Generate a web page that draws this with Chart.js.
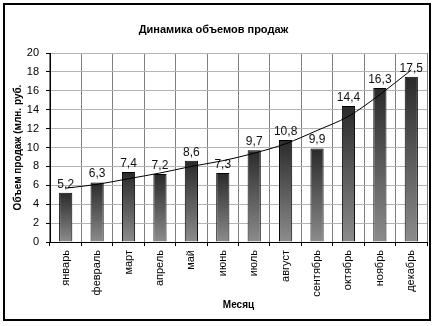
<!DOCTYPE html>
<html lang="ru">
<head>
<meta charset="utf-8">
<title>Динамика объемов продаж</title>
<script src="https://cdn.jsdelivr.net/npm/chart.js@4/dist/chart.umd.min.js"></script>
<style>
  html, body { margin: 0; padding: 0; background: #fff; }
  canvas { display: block; }
</style>
</head>
<body>
<canvas id="salesChart" width="438" height="326"></canvas>
<script>
// месяцы и объемы продаж, млн. руб.
const months = ["январь", "февраль", "март", "апрель", "май", "июнь",
  "июль", "август", "сентябрь", "октябрь", "ноябрь", "декабрь"];
const sales = [5.2, 6.3, 7.4, 7.2, 8.6, 7.3, 9.7, 10.8, 9.9, 14.4, 16.3, 17.5];
// линия тренда
const trend = [5.7, 6.1, 6.7, 7.3, 8.0, 8.6, 9.4, 10.4, 11.8, 13.3, 15.6, 18.2];
const yTicks = [0, 2, 4, 6, 8, 10, 12, 14, 16, 18, 20];

const FONT = 'Arial, "Liberation Sans", sans-serif';

// градиент для каждого столбца: темный сверху, серый снизу
const barFill = (c) => {
  const chart = c.chart;
  const y = chart.scales.y;
  if (!chart.chartArea || !y || c.dataIndex === undefined) return "#555";
  const top = y.getPixelForValue(sales[c.dataIndex]);
  const bottom = y.getPixelForValue(0);
  const g = chart.ctx.createLinearGradient(0, top, 0, bottom);
  g.addColorStop(0, "#2a2a2a");
  g.addColorStop(1, "#8c8c8c");
  return g;
};

// подписи значений над столбцами
const valueLabels = {
  id: "valueLabels",
  afterDatasetDraw(chart, args) {
    if (args.index !== 0) return;
    const ctx = chart.ctx;
    ctx.save();
    ctx.font = "12px " + FONT;
    ctx.fillStyle = "#111";
    ctx.textAlign = "center";
    ctx.textBaseline = "alphabetic";
    args.meta.data.forEach((bar, i) => {
      ctx.fillText(String(sales[i]).replace(".", ","), bar.x, bar.y - 5);
    });
    ctx.restore();
  }
};

// рамка вокруг всей диаграммы
const frame = {
  id: "frame",
  afterDraw(chart) {
    const ctx = chart.ctx;
    ctx.save();
    ctx.strokeStyle = "#000";
    ctx.lineWidth = 2;
    ctx.strokeRect(4, 4, 426, 316);
    ctx.restore();
  }
};

new Chart(document.getElementById("salesChart"), {
  data: {
    labels: months,
    datasets: [
      {
        type: "bar",
        data: sales,
        order: 1,
        backgroundColor: barFill,
        borderColor: "#000",
        borderWidth: 1,
        categoryPercentage: 1,
        barPercentage: 0.42
      },
      {
        type: "line",
        data: trend,
        order: 0,
        borderColor: "#000",
        borderWidth: 1,
        pointRadius: 0,
        cubicInterpolationMode: "monotone",
        fill: false
      }
    ]
  },
  options: {
    responsive: false,
    animation: false,
    layout: { padding: { left: 0, right: 11, top: 0, bottom: 0 } },
    plugins: {
      legend: { display: false },
      tooltip: { enabled: false },
      title: {
        display: true,
        text: "Динамика объемов продаж",
        color: "#000",
        font: { family: FONT, size: 11, weight: "bold", lineHeight: 1.2 },
        padding: { top: 23, bottom: 16.8 }
      }
    },
    scales: {
      x: {
        offset: true,
        grid: {
          offset: true,
          color: "#808080",
          tickColor: "#000",
          tickLength: 4
        },
        border: { color: "#000" },
        ticks: {
          color: "#000",
          font: { family: FONT, size: 11 },
          minRotation: 90,
          maxRotation: 90,
          autoSkip: false,
          padding: 4
        },
        title: {
          display: true,
          text: "Месяц",
          color: "#000",
          font: { family: FONT, size: 10, weight: "bold" },
          padding: { top: 0, bottom: 15 }
        },
        afterFit(scale) { scale.height = 84; }
      },
      y: {
        min: 0,
        max: 20,
        afterBuildTicks(scale) { scale.ticks = yTicks.map(v => ({ value: v })); },
        grid: {
          color: "#b4b4b4",
          tickColor: "#000",
          tickLength: 4
        },
        border: { color: "#000" },
        ticks: {
          color: "#000",
          font: { family: FONT, size: 11 },
          padding: 7
        },
        title: {
          display: true,
          text: "Объем продаж (млн. руб.",
          color: "#000",
          font: { family: FONT, size: 10, weight: "bold" },
          padding: { top: 12, bottom: 0 }
        },
        afterFit(scale) { scale.width = 50; }
      }
    }
  },
  plugins: [valueLabels, frame]
});
</script>
</body>
</html>
